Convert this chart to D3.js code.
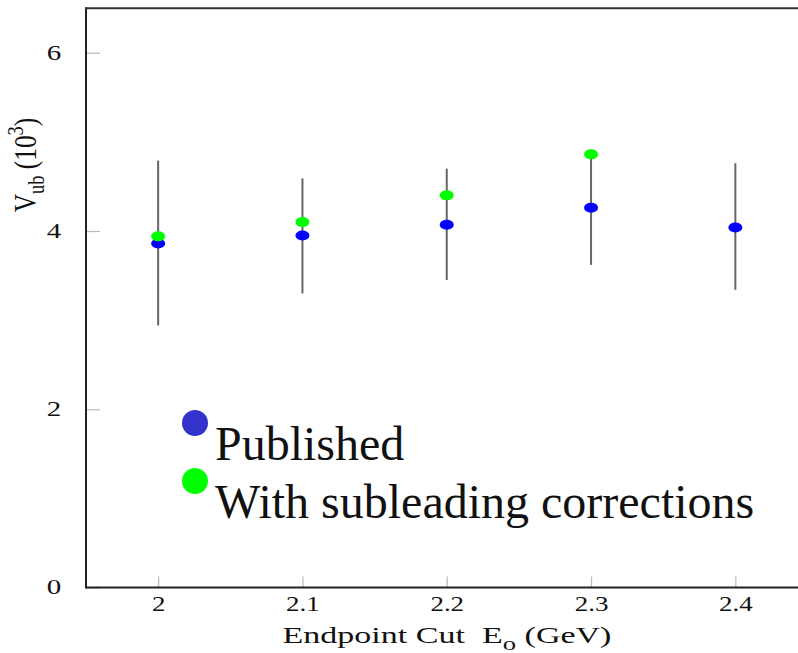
<!DOCTYPE html>
<html>
<head>
<meta charset="utf-8">
<script src="https://cdn.jsdelivr.net/npm/d3@7"></script>
<style>
  html, body { margin: 0; padding: 0; background: #fff; }
  svg { display: block; }
  text { font-family: "Liberation Serif", "Times New Roman", serif; fill: #111; }
</style>
</head>
<body>
<svg id="chart" width="798" height="653"></svg>
<script>
const cuts = [2.0, 2.1, 2.2, 2.3, 2.4];
const published = [3.86, 3.95, 4.07, 4.26, 4.04];
const errLow = [2.94, 3.30, 3.45, 3.62, 3.34];
const errHigh = [4.79, 4.59, 4.70, 4.86, 4.76];
const corrected = [3.94, 4.10, 4.40, 4.86, null];
const xTicks = [2.0, 2.1, 2.2, 2.3, 2.4];
const xTickLabels = ["2", "2.1", "2.2", "2.3", "2.4"];
const yTicks = [0, 2, 4, 6];
const legendLabels = ["Published", "With subleading corrections"];

const svg = d3.select("#chart");
const plotLeft = 86, plotBottom = 587.5, plotTop = 8.2;
const x = d3.scaleLinear().domain([1.95, 2.45]).range([plotLeft, plotLeft + 0.5 * 1443]);
const y = d3.scaleLinear().domain([0, 6.5]).range([plotBottom, plotTop]);

// y axis (ticks inside)
const gy = svg.append("g").attr("transform", `translate(${plotLeft},0)`)
  .call(d3.axisLeft(y).tickValues(yTicks).tickFormat(d3.format("d"))
    .tickSizeInner(-14).tickSizeOuter(0).tickPadding(22));
gy.select(".domain").remove();
gy.selectAll(".tick line").attr("stroke", "#bbb").attr("stroke-width", 1.2);
gy.selectAll(".tick text").attr("font-size", 20).attr("fill", "#111")
  .attr("font-family", "Liberation Serif, serif")
  .attr("transform", "translate(-3,0) scale(1.45,1)").attr("x", -15);

// x axis (ticks inside)
const gx = svg.append("g").attr("transform", `translate(0,${plotBottom})`)
  .call(d3.axisBottom(x).tickValues(xTicks).tickFormat((d, i) => xTickLabels[i])
    .tickSizeInner(-11).tickSizeOuter(0).tickPadding(9));
gx.select(".domain").remove();
gx.selectAll(".tick line").attr("stroke", "#bbb").attr("stroke-width", 1.2);
gx.selectAll(".tick text").attr("font-size", 20).attr("fill", "#111")
  .attr("font-family", "Liberation Serif, serif")
  .attr("transform", "scale(1.35,1)");

// frame
svg.append("line").attr("x1", plotLeft).attr("x2", plotLeft).attr("y1", plotTop - 1).attr("y2", plotBottom + 1)
  .attr("stroke", "#222").attr("stroke-width", 2);
svg.append("line").attr("x1", plotLeft).attr("x2", 798).attr("y1", plotTop).attr("y2", plotTop)
  .attr("stroke", "#333").attr("stroke-width", 2);
svg.append("line").attr("x1", plotLeft).attr("x2", 798).attr("y1", plotBottom).attr("y2", plotBottom)
  .attr("stroke", "#222").attr("stroke-width", 2);

// error bars
svg.append("g").selectAll("line").data(cuts).join("line")
  .attr("x1", d => x(d)).attr("x2", d => x(d))
  .attr("y1", (d, i) => y(errHigh[i])).attr("y2", (d, i) => y(errLow[i]))
  .attr("stroke", "#666").attr("stroke-width", 2);

// published points
svg.append("g").selectAll("ellipse").data(cuts).join("ellipse")
  .attr("cx", d => x(d)).attr("cy", (d, i) => y(published[i]))
  .attr("rx", 7).attr("ry", 5).attr("fill", "#0000ff");

// corrected points
const corrData = cuts.map((c, i) => ({c, v: corrected[i]})).filter(d => d.v != null);
svg.append("g").selectAll("ellipse").data(corrData).join("ellipse")
  .attr("cx", d => x(d.c)).attr("cy", d => y(d.v))
  .attr("rx", 7).attr("ry", 5).attr("fill", "#00ff00");

// legend
const legColors = ["#3333cc", "#00ff00"];
const leg = svg.append("g");
legendLabels.forEach((lab, i) => {
  leg.append("circle").attr("cx", 195).attr("cy", 423 + i * 58).attr("r", 13).attr("fill", legColors[i]);
  leg.append("text").attr("x", 215).attr("y", 460 + i * 57.5).attr("font-size", 48).text(lab);
});

// x axis title
const xt = svg.append("text").attr("transform", "translate(447,643) scale(1.48,1)")
  .attr("text-anchor", "middle").attr("font-size", 23);
xt.append("tspan").text("Endpoint Cut\u00a0\u00a0E");
xt.append("tspan").attr("dy", 7).attr("font-size", 18).text("o");
xt.append("tspan").attr("dy", -7).text(" (GeV)");

// y axis title
const yt = svg.append("text").attr("transform", "translate(36,165) rotate(-90) scale(1.15,1.4)")
  .attr("text-anchor", "middle").attr("font-size", 22);
yt.append("tspan").text("V");
yt.append("tspan").attr("dy", 6).attr("font-size", 16).text("ub");
yt.append("tspan").attr("dy", -6).text(" (10");
yt.append("tspan").attr("dy", -9).attr("font-size", 16).text("3");
yt.append("tspan").attr("dy", 9).text(")");
</script>
</body>
</html>
